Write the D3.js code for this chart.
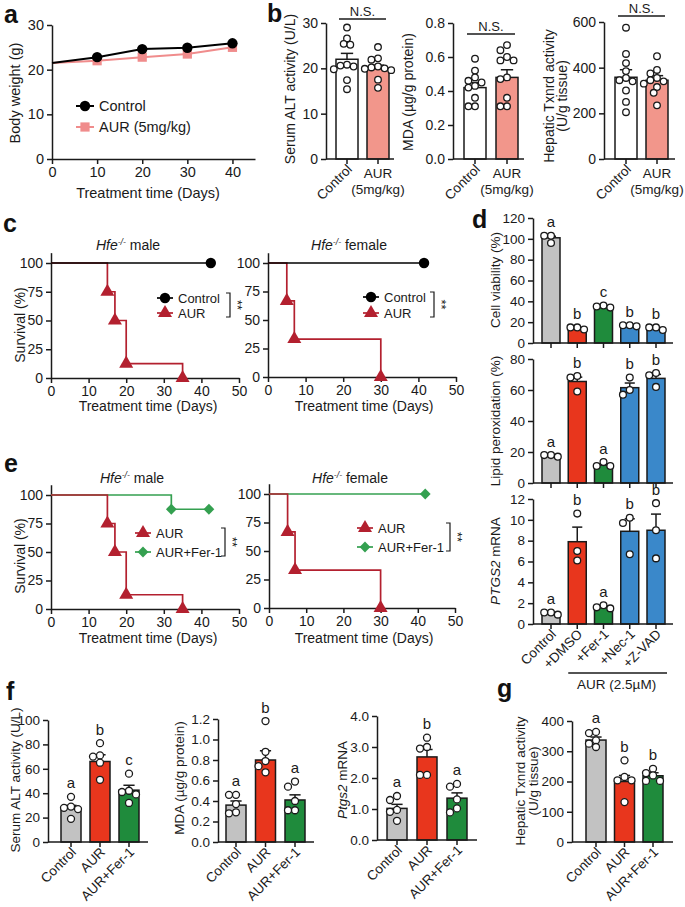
<!DOCTYPE html>
<html><head><meta charset="utf-8">
<script src="https://cdn.jsdelivr.net/npm/d3@7/dist/d3.min.js"></script>
<style>
html,body{margin:0;padding:0;background:#fff;}
svg{display:block;font-family:"Liberation Sans",Arimo,Arial,Helvetica,sans-serif;}
</style></head><body>
<svg id="fig" width="685" height="907"></svg>
<script>
// ================= DATA =================
// Panel a: body weight over time
const aDays = [0, 10, 20, 30, 40];
const aControl = [21.5, 22.8, 24.6, 24.9, 25.9];
const aAUR = [21.5, 22.0, 22.8, 23.5, 25.0];
const aXTicks = [0, 10, 20, 30, 40];
const aYTicks = [0, 10, 20, 30];
const aSeries = ["Control", "AUR (5mg/kg)"];

// Panel b: two-group bar charts
const bGroups = ["Control", "AUR"];
const bALTMean = [22.0, 20.0];
const bALTSem = [1.3, 0.7];
const bALTControl = [29.0, 26.6, 25.4, 25.2, 20.8, 20.6, 20.4, 19.8, 17.4, 15.4];
const bALTAUR = [24.7, 22.2, 21.9, 20.4, 20.2, 20.0, 19.9, 19.6, 17.5, 15.7];
const bALTTicks = [0, 10, 20, 30];
const bMDAMean = [0.42, 0.48];
const bMDASem = [0.03, 0.045];
const bMDAControl = [0.59, 0.52, 0.48, 0.46, 0.45, 0.43, 0.42, 0.36, 0.31, 0.31];
const bMDAAUR = [0.67, 0.64, 0.60, 0.58, 0.58, 0.48, 0.47, 0.36, 0.31, 0.31];
const bMDATicks = [0, 0.2, 0.4, 0.6, 0.8];
const bTxMean = [358, 345];
const bTxSem = [33, 20];
const bTxControl = [575, 460, 420, 385, 355, 345, 340, 300, 250, 205];
const bTxAUR = [450, 390, 375, 355, 345, 340, 330, 315, 290, 235];
const bTxTicks = [0, 200, 400, 600];

// Panels c & e: Kaplan-Meier survival (time, % survival)
const survXTicks = [0, 10, 20, 30, 40, 50];
const survYTicks = [0, 25, 50, 75, 100];
const cMaleCtrlTime = [0, 42.5];
const cMaleCtrlSurv = [100, 100];
const cMaleAURTime = [0, 15, 17, 20, 35];
const cMaleAURSurv = [100, 75, 50, 12.5, 0];
const cFemCtrlTime = [0, 41.5];
const cFemCtrlSurv = [100, 100];
const cFemAURTime = [0, 5, 7, 30];
const cFemAURSurv = [100, 66.7, 33.3, 0];
const eMaleFerTime = [0, 32, 42];
const eMaleFerSurv = [100, 87.5, 87.5];
const eFemFerTime = [0, 42];
const eFemFerSurv = [100, 100];

// Panel d: cell experiments
const dGroups = ["Control", "+DMSO", "+Fer-1", "+Nec-1", "+Z-VAD"];
const dViabMean = [101, 13.5, 35, 17, 14];
const dViabSem = [1.5, 0.8, 0.8, 0.6, 0.8];
const dViabPts = [[103, 103, 96], [13, 15, 15], [34, 36, 35], [16, 17, 17], [12.5, 15, 15]];
const dViabLetters = ["a", "b", "c", "b", "b"];
const dViabTicks = [0, 20, 40, 60, 80, 100, 120];
const dLipidMean = [17.5, 65.5, 11.5, 61.5, 67.5];
const dLipidSem = [0.5, 2.8, 0.8, 3.0, 2.6];
const dLipidPts = [[17, 18, 18], [69, 68, 59], [13.5, 11, 11], [68, 60, 57], [71, 69.5, 62]];
const dLipidLetters = ["a", "b", "a", "b", "b"];
const dLipidTicks = [0, 20, 40, 60, 80];
const dPtgsMean = [1.0, 7.9, 1.6, 8.9, 9.0];
const dPtgsSem = [0.1, 1.4, 0.12, 1.2, 1.55];
const dPtgsPts = [[1.1, 1.1, 0.9], [10.6, 7.0, 6.1], [1.8, 1.5, 1.6], [10.2, 9.7, 6.7], [11.6, 9.0, 6.3]];
const dPtgsLetters = ["a", "b", "a", "b", "b"];
const dPtgsTicks = [0, 2, 4, 6, 8, 10, 12];

// Panels f & g: in vivo three-group bar charts
const fGroups = ["Control", "AUR", "AUR+Fer-1"];
const fALTMean = [27.5, 66, 42.5];
const fALTSem = [2.5, 5.5, 4];
const fALTPts = [[37, 29, 28, 27, 19], [81, 71, 70, 65, 51], [56, 42, 41, 39, 32]];
const fALTLetters = ["a", "b", "c"];
const fALTTicks = [0, 20, 40, 60, 80, 100];
const fMDAMean = [0.36, 0.80, 0.41];
const fMDASem = [0.04, 0.09, 0.05];
const fMDAPts = [[0.46, 0.46, 0.37, 0.29, 0.28], [1.18, 0.88, 0.79, 0.74, 0.68], [0.59, 0.54, 0.40, 0.31, 0.31]];
const fMDALetters = ["a", "b", "a"];
const fMDATicks = [0, 0.2, 0.4, 0.6, 0.8, 1.0, 1.2];
const fPtgsMean = [1.02, 2.68, 1.35];
const fPtgsSem = [0.13, 0.24, 0.17];
const fPtgsPts = [[1.42, 1.29, 0.97, 0.91, 0.62], [3.30, 3.0, 2.95, 2.1, 2.1], [1.81, 1.72, 1.31, 1.02, 0.89]];
const fPtgsLetters = ["a", "b", "a"];
const fPtgsTicks = [0, 1, 2, 3, 4];
const gTxMean = [337, 200, 219];
const gTxSem = [10, 20, 10];
const gTxPts = [[364, 360, 336, 325, 314], [270, 215, 204, 204, 132], [242, 228, 220, 202, 202]];
const gTxLetters = ["a", "b", "b"];
const gTxTicks = [0, 100, 200, 300, 400];

// ================= STYLE =================
const INK = "#1a1a1a";
const C_GRAY = "#c2c2c2", C_RED = "#e8361d", C_GREEN = "#1f8b3c", C_BLUE = "#3a88ca";
const C_SALMON = "#f2968b", C_PINK = "#f08c8c", C_KM_RED = "#b3202f", C_KM_GREEN = "#34a050";

const svg = d3.select("#fig");

function styleAxis(g, fs) {
  g.attr("font-family", null).attr("font-size", null);
  g.selectAll(".domain, .tick line").attr("stroke", INK).attr("stroke-width", 1.5);
  g.selectAll(".tick text").attr("font-size", fs || 14).attr("fill", INK);
}
function addText(x, y, s, o = {}) {
  const t = svg.append("text").attr("x", x).attr("y", y).attr("font-size", o.size || 14)
    .attr("fill", o.fill || INK).attr("text-anchor", o.anchor || "start");
  if (o.weight) t.attr("font-weight", o.weight);
  if (o.transform) t.attr("transform", o.transform);
  t.text(s);
  return t;
}
function richText(x, y, parts, o = {}) {
  const fs = o.size || 13;
  const t = svg.append("text").attr("x", x).attr("y", y).attr("text-anchor", o.anchor || "middle")
    .attr("font-size", fs).attr("fill", INK);
  parts.forEach(p => {
    const s = t.append("tspan").text(p.t);
    if (p.i) s.attr("font-style", "italic");
    if (p.sup) s.attr("font-size", fs * 0.62);
    if (p.dy) s.attr("dy", p.dy);
  });
  return t;
}
function yTitle(bx, cy, lines, fs = 14) {
  const t = svg.append("text").attr("transform", `translate(${bx},${cy}) rotate(-90)`)
    .attr("text-anchor", "middle").attr("font-size", fs).attr("fill", INK);
  lines.forEach((parts, i) => {
    const ln = t.append("tspan").attr("x", 0).attr("dy", i === 0 ? 0 : fs * 0.95);
    parts.forEach(p => { const s = ln.append("tspan").text(p.t); if (p.i) s.attr("font-style", "italic"); });
  });
}
function panelLabel(t, x, y) { addText(x, y, t, { size: 25, weight: "bold", fill: "#111" }); }
function marker(shape, cx, cy, color, size) {
  const sym = { circle: d3.symbolCircle, triangle: d3.symbolTriangle, diamond: d3.symbolSquare, square: d3.symbolSquare }[shape];
  svg.append("path").attr("d", d3.symbol(sym, size)())
    .attr("transform", `translate(${cx},${cy})` + (shape === "diamond" ? " rotate(45)" : ""))
    .attr("fill", color);
}
function swarm(vals, y, r) {
  const items = vals.map(v => ({ py: y(v) })).sort((a, b) => a.py - b.py);
  const placed = [];
  const step = r * 1.0;
  items.forEach(p => {
    for (let k = 0; k < 40; k++) {
      const off = k === 0 ? 0 : (k % 2 ? -1 : 1) * Math.ceil(k / 2) * step;
      if (placed.every(q => Math.hypot(q.px - off, q.py - p.py) >= 2 * r - 0.4)) { p.px = off; break; }
    }
    placed.push(p);
  });
  return placed;
}

// Generic bar panel
function barPanel(o) {
  const y = d3.scaleLinear().domain(o.domain).range([o.y0, o.yTop]);
  const x = d3.scalePoint().domain(o.cats).range([o.c0, o.c1]);
  const r = o.r || 3.6;
  o.cats.forEach((c, i) => {
    const cx = x(c), m = o.mean[i], s = o.sem[i];
    svg.append("rect").attr("x", cx - o.bw / 2).attr("y", y(m)).attr("width", o.bw).attr("height", o.y0 - y(m))
      .attr("fill", o.colors[i]).attr("stroke", INK).attr("stroke-width", 1.5);
    svg.append("line").attr("x1", cx).attr("x2", cx).attr("y1", y(m)).attr("y2", y(m + s))
      .attr("stroke", INK).attr("stroke-width", 1.5);
    svg.append("line").attr("x1", cx - o.bw * 0.28).attr("x2", cx + o.bw * 0.28).attr("y1", y(m + s)).attr("y2", y(m + s))
      .attr("stroke", INK).attr("stroke-width", 1.5);
    swarm(o.pts[i], y, r).forEach(p => {
      svg.append("circle").attr("cx", cx + p.px).attr("cy", p.py).attr("r", r)
        .attr("fill", "#fff").attr("stroke", INK).attr("stroke-width", 1.3);
    });
    if (o.letters) {
      const top = Math.min(y(d3.max(o.pts[i])) - r, y(m + s));
      addText(cx, top - 5, o.letters[i], { anchor: "middle", size: 15 });
    }
  });
  const ga = svg.append("g").attr("transform", `translate(${o.ax},0)`)
    .call(d3.axisLeft(y).tickValues(o.ticks).tickFormat(o.fmt || d3.format("d")).tickSize(5).tickSizeOuter(0));
  styleAxis(ga, o.fs || 14);
  svg.append("line").attr("x1", o.ax).attr("x2", o.axEnd).attr("y1", o.y0).attr("y2", o.y0)
    .attr("stroke", INK).attr("stroke-width", 1.5);
  o.cats.forEach(c => svg.append("line").attr("x1", x(c)).attr("x2", x(c)).attr("y1", o.y0).attr("y2", o.y0 + 5)
    .attr("stroke", INK).attr("stroke-width", 1.5));
  if (o.rotLabels) {
    o.cats.forEach(c => addText(0, 0, c, {
      anchor: "end", size: o.fs || 14,
      transform: `translate(${x(c) + 6},${o.y0 + 11}) rotate(-45)`
    }));
  }
  return { x, y };
}

// Generic survival panel
function survPanel(o) {
  const x = d3.scaleLinear().domain([0, 50]).range([o.x0, o.x1]);
  const y = d3.scaleLinear().domain([0, 100]).range([o.y0, o.y100]);
  const yAx = d3.scaleLinear().domain([0, 109]).range([o.y0, y(109)]);
  const gx = svg.append("g").attr("transform", `translate(0,${o.y0})`)
    .call(d3.axisBottom(x).tickValues(survXTicks).tickSize(5).tickSizeOuter(0));
  styleAxis(gx, 14);
  const gy = svg.append("g").attr("transform", `translate(${o.x0},0)`)
    .call(d3.axisLeft(yAx).tickValues(survYTicks).tickSize(5).tickSizeOuter(0));
  styleAxis(gy, 14);
  const line = d3.line().x(d => x(d[0])).y(d => y(d[1])).curve(d3.curveStepAfter);
  o.series.forEach(s => {
    const pts = s.t.map((t, i) => [t, s.v[i]]);
    svg.append("path").attr("d", line(pts)).attr("fill", "none").attr("stroke", s.color).attr("stroke-width", 1.7);
    pts.slice(1).forEach(p => marker(s.shape, x(p[0]), y(p[1]), s.color, s.shape === "diamond" ? 58 : 85));
  });
  richText(o.titleX, o.titleY, o.title, { size: 14 });
  addText(o.xTitleX, o.xTitleY, "Treatment time (Days)", { anchor: "middle", size: 14 });
  if (o.yTitle) yTitle(o.yTitleX, o.yTitleY, [[{ t: "Survival (%)" }]], 14);
  o.legend.forEach((L, i) => {
    const ly = o.ly + i * o.ldy;
    svg.append("line").attr("x1", o.lx - 8).attr("x2", o.lx + 8).attr("y1", ly).attr("y2", ly)
      .attr("stroke", L.color).attr("stroke-width", 1.7);
    marker(L.shape, o.lx, ly, L.color, L.shape === "diamond" ? 58 : 85);
    addText(o.lx + 13, ly + 4.5, L.label, { size: 13 });
  });
  const b0 = o.ly - 5, b1 = o.ly + o.ldy + 4;
  svg.append("path").attr("d", `M${o.bx - 4},${b0}H${o.bx}V${b1}H${o.bx - 4}`)
    .attr("fill", "none").attr("stroke", INK).attr("stroke-width", 1.2);
  addText(0, 0, "**", { anchor: "middle", size: 13, transform: `translate(${o.bx + 3},${(b0 + b1) / 2}) rotate(90)` });
}

// ================= PANEL a =================
(function () {
  const x = d3.scaleLinear().domain([0, 45]).range([52, 255]);
  const y = d3.scaleLinear().domain([0, 30]).range([159, 25]);
  const gx = svg.append("g").attr("transform", "translate(0,159)")
    .call(d3.axisBottom(x).tickValues(aXTicks).tickSize(5).tickSizeOuter(0));
  styleAxis(gx, 14.5);
  const gy = svg.append("g").attr("transform", "translate(52,0)")
    .call(d3.axisLeft(y).tickValues(aYTicks).tickSize(5).tickSizeOuter(0));
  styleAxis(gy, 14.5);
  const line = d3.line().x((d, i) => x(aDays[i])).y(d => y(d));
  svg.append("path").attr("d", line(aAUR)).attr("fill", "none").attr("stroke", C_PINK).attr("stroke-width", 2);
  aAUR.forEach((v, i) => { if (i > 0) marker("square", x(aDays[i]), y(v), C_PINK, 85); });
  svg.append("path").attr("d", line(aControl)).attr("fill", "none").attr("stroke", "#000").attr("stroke-width", 2);
  aControl.forEach((v, i) => { if (i > 0) marker("circle", x(aDays[i]), y(v), "#000", 85); });
  // legend
  [["circle", "#000"], ["square", C_PINK]].forEach((m, i) => {
    const ly = 106 + i * 21;
    svg.append("line").attr("x1", 76).attr("x2", 94).attr("y1", ly).attr("y2", ly).attr("stroke", m[1]).attr("stroke-width", 2);
    marker(m[0], 85, ly, m[1], 85);
    addText(99, ly + 5, aSeries[i], { size: 14.5 });
  });
  addText(148, 198, "Treatment time (Days)", { anchor: "middle", size: 14.5 });
  yTitle(20, 93, [[{ t: "Body weight (g)" }]], 14.5);
  panelLabel("a", 4, 23);
})();

// ================= PANEL b =================
function bPanel(o) {
  const sc = barPanel(Object.assign({
    cats: bGroups, colors: ["#fff", C_SALMON], bw: 22, y0: 159, r: 3.3, fs: 14
  }, o));
  const cx0 = sc.x(bGroups[0]), cx1 = sc.x(bGroups[1]);
  addText(0, 0, "Control", { anchor: "end", size: 13.5, transform: `translate(${cx0 + 6},${170}) rotate(-45)` });
  addText(cx1, 178, "AUR", { anchor: "middle", size: 13.5 });
  addText(cx1, 194, "(5mg/kg)", { anchor: "middle", size: 13.5 });
  svg.append("line").attr("x1", cx0 - 8).attr("x2", cx1 + 8).attr("y1", o.nsY).attr("y2", o.nsY)
    .attr("stroke", INK).attr("stroke-width", 1.3);
  addText((cx0 + cx1) / 2, o.nsY - 3, "N.S.", { anchor: "middle", size: 13 });
}
bPanel({ ax: 326, axEnd: 394, yTop: 23, domain: [0, 30], ticks: bALTTicks, c0: 347, c1: 378,
  mean: bALTMean, sem: bALTSem, pts: [bALTControl, bALTAUR], nsY: 19 });
bPanel({ ax: 453, axEnd: 524, yTop: 23, domain: [0, 0.8], ticks: bMDATicks, fmt: d3.format(".1f"), c0: 475, c1: 507,
  mean: bMDAMean, sem: bMDASem, pts: [bMDAControl, bMDAAUR], nsY: 34 });
bPanel({ ax: 604, axEnd: 675, yTop: 22, domain: [0, 600], ticks: bTxTicks, c0: 626, c1: 657,
  mean: bTxMean, sem: bTxSem, pts: [bTxControl, bTxAUR], nsY: 16 });
yTitle(295, 89, [[{ t: "Serum ALT activity (U/L)" }]], 14);
yTitle(413, 92, [[{ t: "MDA (µg/g protein)" }]], 14);
yTitle(554, 96, [[{ t: "Hepatic Txnrd activity" }], [{ t: "(U/g tissue)" }]], 14);
panelLabel("b", 267, 22);

// ================= PANEL c =================
const ctrlStyle = { color: "#000", shape: "circle" };
const aurStyle = { color: C_KM_RED, shape: "triangle" };
const ferStyle = { color: C_KM_GREEN, shape: "diamond" };
survPanel({ x0: 51, x1: 239, y0: 378, y100: 263,
  series: [Object.assign({ t: cMaleAURTime, v: cMaleAURSurv }, aurStyle), Object.assign({ t: cMaleCtrlTime, v: cMaleCtrlSurv }, ctrlStyle)],
  title: [{ t: "Hfe", i: true }, { t: "-/-", i: true, sup: true, dy: -5 }, { t: " male", dy: 5 }], titleX: 128, titleY: 250,
  xTitleX: 148, xTitleY: 411, yTitle: true, yTitleX: 25, yTitleY: 325,
  legend: [Object.assign({ label: "Control" }, ctrlStyle), Object.assign({ label: "AUR" }, aurStyle)],
  lx: 165, ly: 298, ldy: 15, bx: 230 });
survPanel({ x0: 268, x1: 456, y0: 377, y100: 263,
  series: [Object.assign({ t: cFemAURTime, v: cFemAURSurv }, aurStyle), Object.assign({ t: cFemCtrlTime, v: cFemCtrlSurv }, ctrlStyle)],
  title: [{ t: "Hfe", i: true }, { t: "-/-", i: true, sup: true, dy: -5 }, { t: " female", dy: 5 }], titleX: 349, titleY: 250,
  xTitleX: 364, xTitleY: 411, yTitle: false,
  legend: [Object.assign({ label: "Control" }, ctrlStyle), Object.assign({ label: "AUR" }, aurStyle)],
  lx: 371, ly: 297, ldy: 16, bx: 434 });
panelLabel("c", 3, 232);

// ================= PANEL e =================
survPanel({ x0: 51, x1: 239, y0: 609, y100: 495,
  series: [Object.assign({ t: eMaleFerTime, v: eMaleFerSurv }, ferStyle), Object.assign({ t: cMaleAURTime, v: cMaleAURSurv }, aurStyle)],
  title: [{ t: "Hfe", i: true }, { t: "-/-", i: true, sup: true, dy: -5 }, { t: " male", dy: 5 }], titleX: 132, titleY: 483,
  xTitleX: 148, xTitleY: 643, yTitle: true, yTitleX: 25, yTitleY: 556,
  legend: [Object.assign({ label: "AUR" }, aurStyle), Object.assign({ label: "AUR+Fer-1" }, ferStyle)],
  lx: 143, ly: 533, ldy: 19, bx: 225 });
survPanel({ x0: 269, x1: 455, y0: 608, y100: 494,
  series: [Object.assign({ t: eFemFerTime, v: eFemFerSurv }, ferStyle), Object.assign({ t: cFemAURTime, v: cFemAURSurv }, aurStyle)],
  title: [{ t: "Hfe", i: true }, { t: "-/-", i: true, sup: true, dy: -5 }, { t: " female", dy: 5 }], titleX: 350, titleY: 483,
  xTitleX: 364, xTitleY: 643, yTitle: false,
  legend: [Object.assign({ label: "AUR" }, aurStyle), Object.assign({ label: "AUR+Fer-1" }, ferStyle)],
  lx: 365, ly: 528, ldy: 19, bx: 450 });
panelLabel("e", 4, 472);

// ================= PANEL d =================
const dColors = [C_GRAY, C_RED, C_GREEN, C_BLUE, C_BLUE];
const dCommon = { cats: dGroups, colors: dColors, ax: 533, axEnd: 673, c0: 551, c1: 656, bw: 18, r: 3.4, fs: 13.5 };
barPanel(Object.assign({ y0: 343, yTop: 218, domain: [0, 120], ticks: dViabTicks,
  mean: dViabMean, sem: dViabSem, pts: dViabPts, letters: dViabLetters }, dCommon));
barPanel(Object.assign({ y0: 483, yTop: 359, domain: [0, 80], ticks: dLipidTicks,
  mean: dLipidMean, sem: dLipidSem, pts: dLipidPts, letters: dLipidLetters }, dCommon));
const dSc = barPanel(Object.assign({ y0: 624, yTop: 499, domain: [0, 12], ticks: dPtgsTicks,
  mean: dPtgsMean, sem: dPtgsSem, pts: dPtgsPts, letters: dPtgsLetters, rotLabels: true }, dCommon));
svg.append("line").attr("x1", dSc.x(dGroups[1]) - 9).attr("x2", dSc.x(dGroups[4]) + 11).attr("y1", 673).attr("y2", 673)
  .attr("stroke", INK).attr("stroke-width", 1.3);
addText((dSc.x(dGroups[1]) + dSc.x(dGroups[4])) / 2, 689, "AUR (2.5µM)", { anchor: "middle", size: 13.5 });
yTitle(500, 280, [[{ t: "Cell viability (%)" }]], 13.5);
yTitle(500, 421, [[{ t: "Lipid peroxidation (%)" }]], 13.5);
yTitle(500, 561, [[{ t: "PTGS2", i: true }, { t: " mRNA" }]], 13.5);
panelLabel("d", 472, 228);

// ================= PANEL f =================
const fColors = [C_GRAY, C_RED, C_GREEN];
const fCommon = { cats: fGroups, colors: fColors, bw: 20, r: 3.5, fs: 13.5, rotLabels: true };
barPanel(Object.assign({ ax: 48, axEnd: 148, y0: 842, yTop: 720, c0: 71, c1: 129, domain: [0, 100], ticks: fALTTicks,
  mean: fALTMean, sem: fALTSem, pts: fALTPts, letters: fALTLetters }, fCommon));
barPanel(Object.assign({ ax: 218, axEnd: 314, y0: 842, yTop: 719, c0: 236, c1: 295, domain: [0, 1.2], ticks: fMDATicks,
  fmt: d3.format(".1f"), mean: fMDAMean, sem: fMDASem, pts: fMDAPts, letters: fMDALetters }, fCommon));
barPanel(Object.assign({ ax: 377, axEnd: 477, y0: 840, yTop: 716, c0: 397, c1: 457, domain: [0, 4], ticks: fPtgsTicks,
  fmt: d3.format(".1f"), mean: fPtgsMean, sem: fPtgsSem, pts: fPtgsPts, letters: fPtgsLetters }, fCommon));
yTitle(20, 780, [[{ t: "Serum ALT activity (U/L)" }]], 13.5);
yTitle(184, 778, [[{ t: "MDA (µg/g protein)" }]], 13.5);
yTitle(347, 780, [[{ t: "Ptgs2", i: true }, { t: " mRNA" }]], 13.5);
panelLabel("f", 6, 700);

// ================= PANEL g =================
barPanel(Object.assign({ ax: 572, axEnd: 673, y0: 842, yTop: 721, c0: 596, c1: 653, domain: [0, 400], ticks: gTxTicks,
  mean: gTxMean, sem: gTxSem, pts: gTxPts, letters: gTxLetters }, fCommon));
yTitle(525, 781, [[{ t: "Hepatic Txnrd activity" }], [{ t: "(U/g tissue)" }]], 13.5);
panelLabel("g", 497, 697);
</script></body></html>
